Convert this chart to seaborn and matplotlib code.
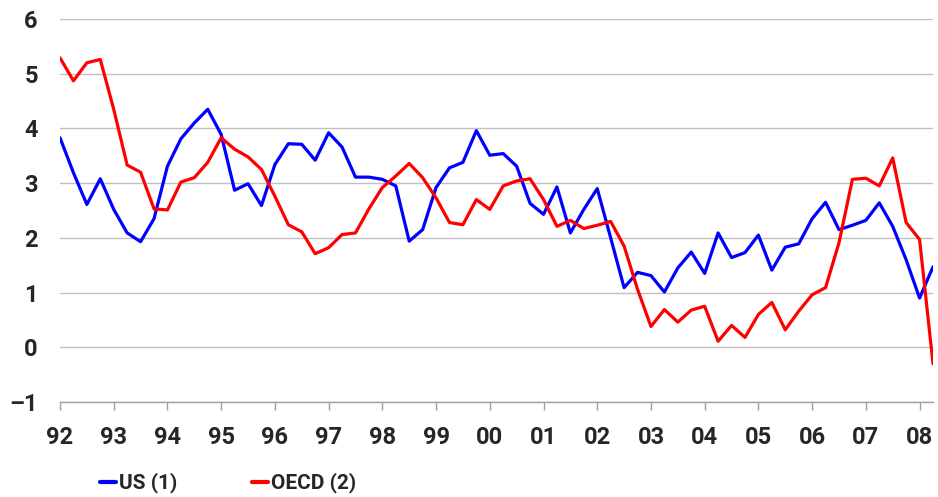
import matplotlib
matplotlib.use("Agg")
import matplotlib.pyplot as plt
import seaborn as sns
import pandas as pd
import numpy as np
from matplotlib.lines import Line2D

# Quarterly, 1992Q1 .. 2008Q2
quarters = [f"{y}Q{q}" for y in range(1992, 2009) for q in range(1, 5)][:66]

us = [3.83, 3.19, 2.61, 3.08, 2.52, 2.09, 1.93, 2.35, 3.31, 3.81,
      4.10, 4.35, 3.89, 2.87, 2.99, 2.59, 3.34, 3.72, 3.71, 3.42,
      3.92, 3.66, 3.11, 3.11, 3.07, 2.95, 1.94, 2.15, 2.92, 3.28,
      3.38, 3.96, 3.51, 3.54, 3.31, 2.63, 2.43, 2.93, 2.09, 2.52,
      2.90, 2.00, 1.09, 1.37, 1.31, 1.01, 1.45, 1.74, 1.35, 2.09,
      1.64, 1.73, 2.05, 1.41, 1.83, 1.89, 2.35, 2.65, 2.15, 2.23,
      2.32, 2.64, 2.21, 1.60, 0.90, 1.47]

oecd = [5.29, 4.87, 5.20, 5.26, 4.35, 3.33, 3.20, 2.53, 2.51, 3.02,
        3.10, 3.38, 3.83, 3.62, 3.48, 3.25, 2.76, 2.24, 2.11, 1.71,
        1.82, 2.06, 2.09, 2.53, 2.92, 3.13, 3.36, 3.10, 2.73, 2.28,
        2.24, 2.70, 2.52, 2.95, 3.04, 3.08, 2.70, 2.21, 2.32, 2.17,
        2.23, 2.30, 1.85, 1.06, 0.38, 0.69, 0.46, 0.68, 0.75, 0.11,
        0.40, 0.18, 0.60, 0.82, 0.32, 0.66, 0.96, 1.09, 1.91, 3.07,
        3.09, 2.95, 3.46, 2.28, 1.97, -0.30]

series_names = ["US (1)", "OECD (2)"]
colors = ["#0000FF", "#FF0000"]
year_labels = ["92", "93", "94", "95", "96", "97", "98", "99", "00",
               "01", "02", "03", "04", "05", "06", "07", "08"]
y_ticks = [-1, 0, 1, 2, 3, 4, 5, 6]

idx = np.arange(len(quarters))
df = pd.DataFrame({
    "t": np.concatenate([idx, idx]),
    "value": us + oecd,
    "series": [series_names[0]] * len(us) + [series_names[1]] * len(oecd),
})

sns.set_theme(style="white")
plt.rcParams["font.family"] = ["Roboto", "DejaVu Sans"]

fig = plt.figure(figsize=(9.38, 4.97), dpi=100)
ax = fig.add_axes([60 / 938, 1 - 402 / 497, 873 / 938, (402 - 19) / 497])

sns.lineplot(data=df, x="t", y="value", hue="series", palette=colors,
             linewidth=2.3, ax=ax, legend=False)

ax.set_xlim(0, 65)
ax.set_ylim(-1, 6)
ax.set_yticks(y_ticks)
ax.set_yticklabels(["\u2013" + "1" if v == -1 else str(v) for v in y_ticks])
ax.set_xticks(np.arange(0, 65, 4)[:len(year_labels)])
ax.set_xticklabels(year_labels)
ax.set_xlabel("")
ax.set_ylabel("")

ax.yaxis.grid(True, color="#c0c0c0", linewidth=1.0)
ax.xaxis.grid(False)
ax.set_axisbelow(True)
for s in ["top", "right", "left"]:
    ax.spines[s].set_visible(False)
ax.spines["bottom"].set_color("#a0a0a0")
ax.spines["bottom"].set_linewidth(1.0)

ax.tick_params(axis="y", length=0, pad=16, labelsize=17)
ax.tick_params(axis="x", length=6, width=1, color="#a0a0a0", direction="out",
               pad=11, labelsize=17, bottom=True)
for lbl in ax.get_xticklabels() + ax.get_yticklabels():
    lbl.set_fontweight("bold")

handles = [Line2D([], [], color=c, linewidth=3) for c in colors]
fig.legend(handles, series_names, loc="center left",
           bbox_to_anchor=(100 / 938, 1 - 483 / 497), ncol=2, frameon=False,
           handlelength=0.75, handletextpad=0.15, columnspacing=3.6,
           borderpad=0, borderaxespad=0,
           prop={"size": 15, "weight": "bold"})

fig.savefig("out.png", dpi=100)
